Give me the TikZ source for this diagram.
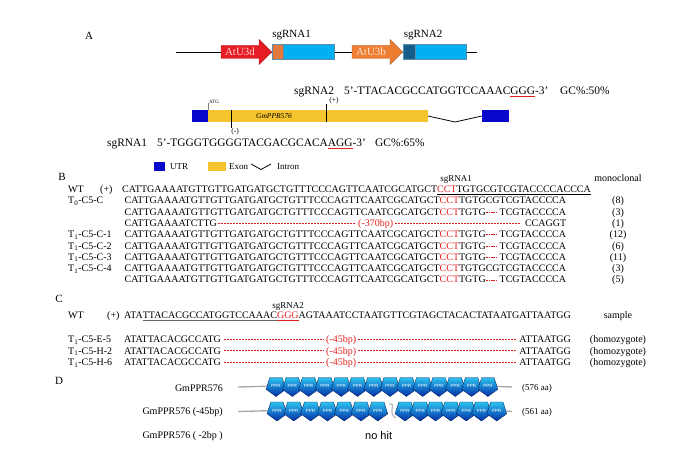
\documentclass[tikz,border=0pt]{standalone}
\usepackage{fontspec}
\setmainfont{Liberation Serif}
\setsansfont{Liberation Sans}
\usetikzlibrary{shapes.geometric}

\definecolor{promred}{RGB}{232,28,36}
\definecolor{promorange}{RGB}{237,125,49}
\definecolor{spacerorange}{RGB}{226,120,60}
\definecolor{spacerdark}{RGB}{22,92,140}
\definecolor{scaffblue}{RGB}{0,176,240}
\definecolor{exonyellow}{RGB}{246,196,44}
\definecolor{utrblue}{RGB}{8,8,205}
\definecolor{seqred}{RGB}{226,32,32}
\definecolor{pprtop}{RGB}{45,195,240}
\definecolor{pprbottom}{RGB}{0,45,165}

% underline a stretch of sequence
\newcommand\ulseq[2]{\leavevmode\setbox0\hbox{#2}\rlap{\textcolor{#1}{\vrule height -1.4pt depth 2pt width \wd0}}\box0}
% deleted bases as red dashes
\newcommand\delseq[1]{\setbox0\hbox{#1}\hbox to \wd0{\color{seqred}\leaders\hbox to 2.4pt{\hss\vrule height 3.4pt depth -2.8pt width 1.6pt\hss}\hfill}}
\newcommand\seqB{CATTGAAAATGTTGTTGATGATGCTGTTTCCCAGTTCAATCGCATGCT\textcolor{seqred}{CCT}TGTG}

\tikzset{
  every node/.style={inner sep=0pt},
  panel/.style={font=\fontsize{11}{13}\selectfont},
  guide/.style={anchor=base west, font=\fontsize{11.4}{13}\selectfont},
  seq/.style={anchor=base west, font=\fontsize{10}{12}\selectfont},
  seqend/.style={anchor=base east, font=\fontsize{10}{12}\selectfont},
  count/.style={anchor=base, font=\fontsize{10}{12}\selectfont},
  hdr/.style={anchor=base, font=\fontsize{9}{11}\selectfont},
  keytext/.style={anchor=base west, font=\fontsize{9}{11}\selectfont},
  prom/.style={draw=#1!75!black, fill=#1, line width=0.4pt},
  block/.style={draw=spacerdark!70, line width=0.3pt},
  deldash/.style={seqred, line width=0.5pt, dash pattern=on 2pt off 1pt},
  ppr/.style={regular polygon, regular polygon sides=5, shape border rotate=180,
    minimum size=21pt, top color=pprtop, bottom color=pprbottom,
    draw=pprbottom!50!black, line width=0.3pt, text=white,
    font=\sffamily\fontsize{4.5}{5}\selectfont},
  stem/.style={gray!70, line width=1.3pt},
}

\begin{document}
\begin{tikzpicture}[x=1pt,y=-1pt]
\useasboundingbox (0,0) rectangle (695,473);

% A: construct
\node[panel] (pa) at (89,36) {A};
\coordinate (bbl) at (176,52);
\coordinate (bbr) at (477,52);
\draw[line width=0.9pt] (bbl) -- (bbr);
\draw[prom=promred] (221,45.5) -- ++(38,0) -- ++(0,-6) -- ++(12.5,12.5) -- ++(-12.5,12.5)
  -- ++(0,-6) -- ++(-38,0) -- cycle;
\node[panel, text=white!80!promred] (u3d) at (240,52) {AtU3d};
\draw[block, fill=spacerorange] (272,44.5) rectangle (283,59);
\draw[block, fill=scaffblue] (283,44.5) rectangle (334,59);
\draw[prom=promorange] (352,45.5) -- ++(38,0) -- ++(0,-6) -- ++(12.5,12.5) -- ++(-12.5,12.5)
  -- ++(0,-6) -- ++(-38,0) -- cycle;
\node[panel, text=white!80!promorange] (u3b) at (371,52) {AtU3b};
\draw[block, fill=spacerdark] (403,44.5) rectangle (415,59);
\draw[block, fill=scaffblue] (415,44.5) rectangle (466,59);
\node[panel] (g1) at (291.5,35.5) {sgRNA1};
\node[panel] (g2) at (423,35.5) {sgRNA2};

% gene model and targets
\node[guide] (t2) at (294,95) {sgRNA2};
\node[guide] (s2) at (344,95) {5’-TTACACGCCATGGTCCAAAC\ulseq{seqred}{GGG}-3’};
\node[guide] (gc2) at (560,95) {GC\%:50\%};
\fill[utrblue] (192,110.5) rectangle (208,122);
\fill[exonyellow] (208,110.5) rectangle (428,122);
\fill[utrblue] (482,110.5) rectangle (509,122);
\draw[line width=0.8pt] (428,116) -- (455,122) -- (482,116);
\draw[gray, line width=0.3pt] (208,103) -- (208,110.5);
\node[anchor=south west, font=\fontsize{5}{6}\selectfont] (atg) at (209,103.5) {ATG};
\draw[line width=1pt] (326,104) -- (326,122);
\node[font=\fontsize{7.5}{9}\selectfont] (plus) at (334,101) {(+)};
\draw[line width=1pt] (231,110.5) -- (231,128);
\node[font=\fontsize{7.5}{9}\selectfont] (minus) at (235,132) {(-)};
\node[font=\itshape\fontsize{7.5}{9}\selectfont] (gname) at (274,116) {GmPPR576};
\node[guide] (t1) at (107,147) {sgRNA1};
\node[guide] (s1) at (157,147) {5’-TGGGTGGGGTACGACGCACA\ulseq{seqred}{AGG}-3’};
\node[guide] (gc1) at (375,147) {GC\%:65\%};
% key
\fill[utrblue] (154,162) rectangle (165,171);
\node[keytext] (kutr) at (170,170) {UTR};
\fill[exonyellow] (208,162) rectangle (226,171);
\node[keytext] (kexon) at (229,170) {Exon};
\draw[line width=0.8pt] (251,164) -- (261,169.5) -- (271,164);
\node[keytext] (kintron) at (277,170) {Intron};

% B: sgRNA1 alleles
\node[panel] (pb) at (62,177) {B};
\node[hdr] (hb) at (456,181) {sgRNA1};
\node[count] (hmono) at (618,181) {monoclonal};
\coordinate (y4) at (0,226.4);
\node[seq] (l1) at (68,192.5) {WT};
\node[seq] (p1) at (100,192.5) {(+)};
\node[seq] (r1) at (122,192.5) {CATTGAAAATGTTGTTGATGATGCTGTTTCCCAGTTCAATCGCATGCT\ulseq{black}{\textcolor{seqred}{CCT}TGTGCGTCGTACCCCACCCA}};
\node[seq] (l2) at (68,203.8) {T\textsubscript{0}-C5-C};
\node[seq] (r2) at (124.5,203.8) {\seqB CGTCGTACCCCA};
\node[count] (n2) at (618,203.8) {(8)};
\node[seq] (r3) at (124.5,215.1) {\seqB\delseq{CG}TCGTACCCCA};
\node[count] (n3) at (618,215.1) {(3)};
\node[seq] (r4a) at (124.5,226.4) {CATTGAAAATCTTG};
\node[seq, text=seqred] (d4) at (358,226.4) {(-370bp)};
\node[seqend] (r4b) at (r2.base east |- y4) {CCAGGT};
\draw[deldash, shorten <=1pt, shorten >=2pt] (r4a.east) -- (r4a.east -| d4.west);
\draw[deldash, shorten <=2pt, shorten >=4pt] (r4a.east -| d4.east) -- (r4a.east -| r4b.west);
\node[count] (n4) at (618,226.4) {(1)};
\node[seq] (l5) at (68,237.7) {T\textsubscript{1}-C5-C-1};
\node[seq] (r5) at (124.5,237.7) {\seqB\delseq{CG}TCGTACCCCA};
\node[count] (n5) at (618,237.7) {(12)};
\node[seq] (l6) at (68,249) {T\textsubscript{1}-C5-C-2};
\node[seq] (r6) at (124.5,249) {\seqB\delseq{CG}TCGTACCCCA};
\node[count] (n6) at (618,249) {(6)};
\node[seq] (l7) at (68,260.3) {T\textsubscript{1}-C5-C-3};
\node[seq] (r7) at (124.5,260.3) {\seqB\delseq{CG}TCGTACCCCA};
\node[count] (n7) at (618,260.3) {(11)};
\node[seq] (l8) at (68,271.6) {T\textsubscript{1}-C5-C-4};
\node[seq] (r8) at (124.5,271.6) {\seqB CGTCGTACCCCA};
\node[count] (n8) at (618,271.6) {(3)};
\node[seq] (r9) at (124.5,282.9) {\seqB\delseq{CG}TCGTACCCCA};
\node[count] (n9) at (618,282.9) {(5)};

% C: sgRNA2 alleles
\node[panel] (pc) at (59,299) {C};
\node[hdr] (hc) at (288,308.5) {sgRNA2};
\node[count] (hsample) at (618,318.5) {sample};
\node[seq] (cl0) at (68,318.5) {WT};
\node[seq] (cp0) at (107,318.5) {(+)};
\node[seq] (c0) at (124,318.5) {ATA\ulseq{black!60}{TTACACGCCATGGTCCAAAC}\ulseq{seqred}{\textcolor{seqred}{GGG}}AGTAAATCCTAATGTTCGTAGCTACACTATAATGATTAATGG};
\foreach \nm/\yy [count=\i] in {E-5/342.5, H-2/354, H-6/365.5} {
  \coordinate (cy\i) at (0,\yy);
  \node[seq] (cl\i) at (68,\yy) {T\textsubscript{1}-C5-\nm};
  \node[seq] (ca\i) at (124,\yy) {ATATTACACGCCATG};
  \node[seq, text=seqred] (cd\i) at (326,\yy) {(-45bp)};
  \node[seqend] (cb\i) at (c0.base east |- cy\i) {ATTAATGG};
  \draw[deldash, shorten <=3pt, shorten >=2pt] (ca\i.east) -- (ca\i.east -| cd\i.west);
  \draw[deldash, shorten <=2pt, shorten >=3pt] (ca\i.east -| cd\i.east) -- (ca\i.east -| cb\i.west);
  \node[count] (hz\i) at (618,\yy) {(homozygote)};
}

% D: protein domains
\node[panel] (pd) at (59,381) {D};
\node[seqend] (dn1) at (223,391) {GmPPR576};
\node[seqend] (dn2) at (223,414.5) {GmPPR576 (-45bp)};
\node[seqend] (dn3) at (223,438.5) {GmPPR576 ( -2bp )};
\foreach \k in {0,...,13}
  \node[ppr] (pa\k) at (276+16.3*\k,386) {PPR};
\foreach \k in {0,...,6}
  \node[ppr] (pb\k) at (277+16.8*\k,410.5) {PPR};
\foreach \k in {0,...,6}
  \node[ppr] (pc\k) at (405+15.3*\k,410.5) {PPR};
\draw[gray!55, line width=1.2pt] (389,404) .. controls (398,403) and (386,412) .. (396,418);
\coordinate (st1) at (238,387);
\coordinate (en1) at (512,387);
\coordinate (st2) at (238,411.5);
\coordinate (en2) at (512,411.5);
\draw[stem] (st1) -- (pa0);
\draw[stem] (pa13) -- (en1);
\draw[stem] (st2) -- (pb0);
\draw[stem] (pc6) -- (en2);
\node[anchor=base west, font=\fontsize{9}{11}\selectfont] (aa1) at (522,390.5) {(576 aa)};
\node[anchor=base west, font=\fontsize{9}{11}\selectfont] (aa2) at (522,414) {(561 aa)};
\node[anchor=base west, font=\sffamily\fontsize{11}{13}\selectfont] (nohit) at (365,439) {no hit};
\end{tikzpicture}
\end{document}
